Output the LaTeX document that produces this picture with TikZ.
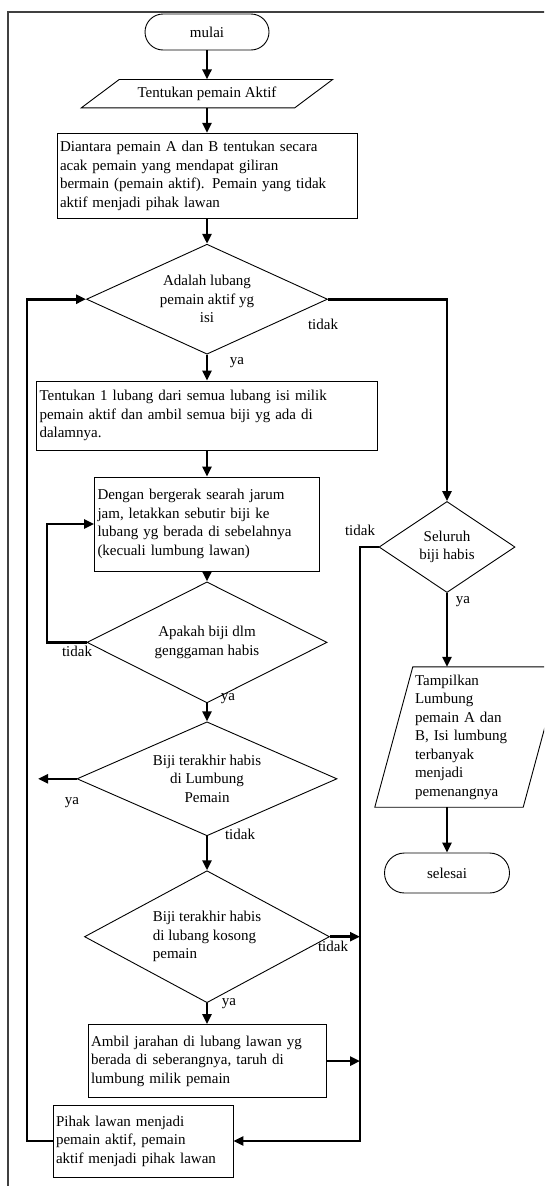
\documentclass[tikz,border=0pt]{standalone}
\usepackage{fontspec}
\setmainfont{Liberation Serif}
\usetikzlibrary{shapes.geometric, arrows.meta, positioning, calc}
\tikzset{every node/.append style={align=center, inner sep=3pt}}

\begin{document}
\begin{tikzpicture}[
    x=1pt, y=-1pt,
    font=\fontsize{15}{18.5}\selectfont, node distance=25pt,
    term/.style={rectangle, rounded corners=18pt, draw, line width=0.9pt,
        minimum width=124pt, minimum height=36pt},
    proc/.style={rectangle, draw, line width=0.9pt, align=left},
    io/.style={rectangle, align=center},
    dec/.style={diamond, draw, line width=0.9pt, inner sep=0pt, aspect=2.2},
    a/.style={-{Triangle[length=10pt, width=9pt]}, line width=2.6pt},
    lbl/.style={inner sep=0pt}
]
\useasboundingbox (0,0) rectangle (544,1186);
\clip (0,0) rectangle (544,1186);
\draw[line width=1.2pt, black!75] (570,12) -- (8,12) -- (8,1210);

% main column
\node[term] (mulai) at (207,32) {mulai};
\node[io, below=29pt of mulai, minimum width=213pt, minimum height=28pt] (aktif) {Tentukan pemain Aktif};
\node[proc, below=25pt of aktif, text width=294pt, minimum height=85pt] (acak)
    {Diantara pemain A dan B tentukan secara\\ acak pemain yang mendapat giliran\\ bermain (pemain aktif). Pemain yang tidak\\ aktif menjadi pihak lawan};
\node[dec, below=25pt of acak, minimum width=241pt, minimum height=110pt] (isi) {Adalah lubang\\ pemain aktif yg\\ isi};
\node[proc, below=26pt of isi, text width=335pt, minimum height=69pt] (ambil)
    {Tentukan 1 lubang dari semua lubang isi milik\\ pemain aktif dan ambil semua biji yg ada di\\ dalamnya.};
\node[proc, below=26pt of ambil, text width=219pt, minimum height=94pt] (tabur)
    {Dengan bergerak searah jarum\\ jam, letakkan sebutir biji ke\\ lubang yg berada di sebelahnya\\ (kecuali lumbung lawan)};
\node[dec, below=10pt of tabur, minimum width=240pt, minimum height=121pt] (genggam) {Apakah biji dlm\\ genggaman habis};
\node[dec, below=18pt of genggam, minimum width=260pt, minimum height=114pt] (lumbung) {Biji terakhir habis\\ di Lumbung\\ Pemain};
\node[dec, below=34pt of lumbung, minimum width=245pt, minimum height=132pt, align=left] (kosong) {Biji terakhir habis\\ di lubang kosong\\ pemain};
\node[proc, below=21pt of kosong, text width=232pt, minimum height=73pt] (jarah)
    {Ambil jarahan di lubang lawan yg\\ berada di seberangnya, taruh di\\ lumbung milik pemain};
\node[proc, text width=174pt, minimum height=72pt] (ganti) at (143,1141)
    {Pihak lawan menjadi\\ pemain aktif, pemain\\ aktif menjadi pihak lawan};

% right column
\node[dec, minimum width=136pt, minimum height=91pt] (habis) at (447,547) {Seluruh\\ biji habis};
\node[io, align=left, text width=106pt, inner xsep=21pt, minimum height=140pt] (hasil) at (468,737)
    {Tampilkan\\ Lumbung\\ pemain A dan\\ B, Isi lumbung\\ terbanyak\\ menjadi\\ pemenangnya};
\node[term, minimum width=125pt, minimum height=40pt, rounded corners=20pt] (selesai) at (447,873) {selesai};

% input/output shapes
\draw[line width=0.9pt] ([xshift=19pt]aktif.north west) -- ([xshift=19pt]aktif.north east)
    -- ([xshift=-19pt]aktif.south east) -- ([xshift=-19pt]aktif.south west) -- cycle;
\draw[line width=0.9pt] ([xshift=19pt]hasil.north west) -- ([xshift=19pt]hasil.north east)
    -- ([xshift=-19pt]hasil.south east) -- ([xshift=-19pt]hasil.south west) -- cycle;

\coordinate (kanan) at (360,0);
\coordinate (kiri) at (27,0);
\coordinate (kiri2) at (47,0);
\coordinate (ujung) at (38,0);

\draw[a] (mulai) -- (aktif); \draw[a] (aktif) -- (acak); \draw[a] (acak) -- (isi);
\draw[a] (isi) -- (ambil); \draw[a] (ambil) -- (tabur); \draw[a] (tabur) -- (genggam);
\draw[a] (genggam) -- (lumbung); \draw[a] (lumbung) -- (kosong); \draw[a] (kosong) -- (jarah);
\draw[a] (isi.east) -| (habis.north);
\draw[a] (habis) -- (habis |- hasil.north);
\draw[a] (habis |- hasil.south) -- (selesai);
\draw[a] (habis.west) -| (kanan |- ganti) -- (ganti.east);
\draw[a] (kosong.east) -- (kosong.east -| kanan);
\draw[a] (jarah.east) -- (jarah.east -| kanan);
% loops back
\draw[a] (ganti.west) -| (kiri |- isi) -- (isi.west);
\draw[a] (genggam.west) -| (kiri2 |- tabur) -- (tabur.west);
\draw[a] (lumbung.west) -- (lumbung.west -| ujung);

% labels
\node[lbl] (t1) at (323,324) {tidak};
\node[lbl] (y1) at (237,363) {ya};
\node[lbl] (t2) at (360,530) {tidak};
\node[lbl] (y2) at (463,602) {ya};
\node[lbl] (t3) at (77,651) {tidak};
\node[lbl] (y3) at (228,699) {ya};
\node[lbl] (y4) at (72,803) {ya};
\node[lbl] (t4) at (240,834) {tidak};
\node[lbl] (t5) at (333,946) {tidak};
\node[lbl] (y5) at (229,1004) {ya};
\end{tikzpicture}
\end{document}
